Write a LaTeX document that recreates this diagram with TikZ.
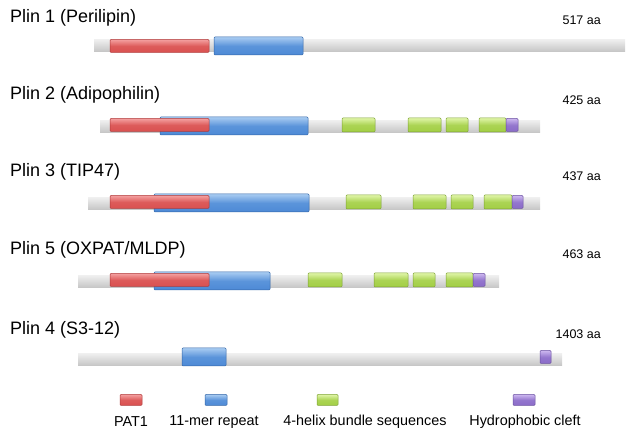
\documentclass[tikz,border=0pt]{standalone}
\usepackage{fontspec}
\setmainfont{Liberation Sans}
\definecolor{redT}{HTML}{F4A0A0}
\definecolor{redB}{HTML}{D9504F}
\definecolor{redD}{HTML}{B03A3A}
\definecolor{bluT}{HTML}{A9CCF2}
\definecolor{bluB}{HTML}{4D8AD6}
\definecolor{bluD}{HTML}{3366A8}
\definecolor{grnT}{HTML}{E0F5A8}
\definecolor{grnB}{HTML}{A2CE45}
\definecolor{grnD}{HTML}{7FA335}
\definecolor{vioT}{HTML}{CDB8F0}
\definecolor{vioB}{HTML}{8A6BC8}
\definecolor{vioD}{HTML}{6A50A0}
\definecolor{barT}{HTML}{EDEDED}
\definecolor{barB}{HTML}{C4C4C4}
\begin{document}
\begin{tikzpicture}[x=1pt,y=-1pt,
  title/.style={anchor=west,inner sep=0pt,font=\fontsize{18}{20}\selectfont},
  aa/.style={anchor=east,inner sep=0pt,font=\fontsize{12.5}{14}\selectfont},
  leg/.style={anchor=center,inner sep=0pt,font=\fontsize{14.4}{16}\selectfont},
  bar/.style={top color=barT,bottom color=barB,draw=none},
  pat/.style={top color=redT,bottom color=redB,middle color=redB!85!redT,draw=redD,line width=0.5pt,rounded corners=1pt},
  mer/.style={top color=bluT,bottom color=bluB,middle color=bluB!85!bluT,draw=bluD,line width=0.5pt,rounded corners=1pt},
  hel/.style={top color=grnT,bottom color=grnB,middle color=grnB!85!grnT,draw=grnD,line width=0.5pt,rounded corners=1pt},
  hyd/.style={top color=vioT,bottom color=vioB,middle color=vioB!85!vioT,draw=vioD,line width=0.5pt,rounded corners=1pt}]
\useasboundingbox (0,0) rectangle (633,438);
\newcommand\seg[5]{\path[#1] (#2,{#4-#5/2}) rectangle (#3,{#4+#5/2});}
% Row 1
\node[title] (t1) at (10,18) {Plin 1 (Perilipin)};
\node[aa] (a1) at (601,20) {517 aa};
\seg{bar}{94}{625}{46}{12}
\seg{pat}{110}{209}{46}{13}
\seg{mer}{214}{303}{46}{18}
% Row 2
\node[title] (t2) at (10,95) {Plin 2 (Adipophilin)};
\node[aa] (a2) at (601,100) {425 aa};
\seg{bar}{100}{540}{127}{12}
\seg{mer}{160}{308}{126}{18}
\seg{pat}{110}{209}{125}{13}
\seg{hel}{342}{375}{125}{14}
\seg{hel}{408}{441}{125}{14}
\seg{hel}{446}{468}{125}{14}
\seg{hel}{479}{506}{125}{14}
\seg{hyd}{506}{518}{125}{13}
% Row 3
\node[title] (t3) at (10,172) {Plin 3 (TIP47)};
\node[aa] (a3) at (601,176) {437 aa};
\seg{bar}{88}{540}{204}{12}
\seg{mer}{154}{309}{203}{18}
\seg{pat}{110}{209}{202}{13}
\seg{hel}{346}{381}{202}{14}
\seg{hel}{413}{446}{202}{14}
\seg{hel}{451}{473}{202}{14}
\seg{hel}{484}{512}{202}{14}
\seg{hyd}{512}{523}{202}{13}
% Row 4
\node[title] (t4) at (10,250) {Plin 5 (OXPAT/MLDP)};
\node[aa] (a4) at (601,254) {463 aa};
\seg{bar}{78}{499}{282}{12}
\seg{mer}{154}{270}{281}{18}
\seg{pat}{110}{209}{280}{13}
\seg{hel}{308}{342}{280}{14}
\seg{hel}{374}{408}{280}{14}
\seg{hel}{413}{435}{280}{14}
\seg{hel}{446}{473}{280}{14}
\seg{hyd}{473}{485}{280}{13}
% Row 5
\node[title] (t5) at (10,330) {Plin 4 (S3-12)};
\node[aa] (a5) at (601,334) {1403 aa};
\seg{bar}{78}{562}{360}{12}
\seg{mer}{182}{226}{357}{18}
\seg{hyd}{540}{551}{357}{13}
% Legend
\seg{pat}{120}{142}{400}{11}
\seg{mer}{205}{227}{400}{11}
\seg{hel}{317}{338}{400}{11}
\seg{hyd}{513}{535}{400}{11}
\node[leg] (l1) at (131,422) {PAT1};
\node[leg] (l2) at (214,422) {11-mer repeat};
\node[leg] (l3) at (365,422) {4-helix bundle sequences};
\node[leg] (l4) at (525,422) {Hydrophobic cleft};
\end{tikzpicture}
\end{document}
